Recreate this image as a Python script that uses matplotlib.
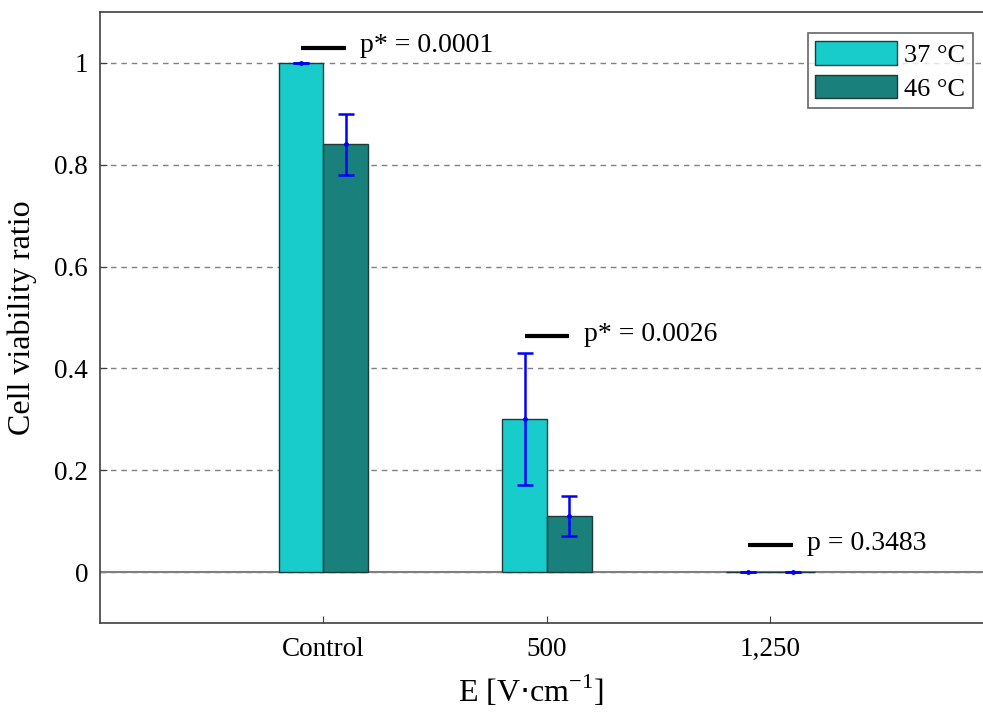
import matplotlib.pyplot as plt
import numpy as np

plt.rcParams['font.family'] = ['Liberation Serif', 'DejaVu Serif']

# data
groups = ["Control", "500", "1,250"]
viab_37 = [1.0, 0.30, 0.0]
err_37 = [0.0, 0.13, 0.0]
viab_46 = [0.84, 0.11, 0.0]
err_46 = [0.06, 0.04, 0.0]
p_labels = ["p* = 0.0001", "p* = 0.0026", "p = 0.3483"]
p_heights = [1.03, 0.463, 0.053]

fig = plt.figure(figsize=(9.83, 7.15), dpi=100)
# axes run past the right edge of the picture, as in the source figure
ax = fig.add_axes([0.1017, 0.1287, 0.9095, 0.8546])

x = np.arange(1, len(groups) + 1)
w = 0.2

ax.axhline(0, color='#808080', lw=1.5, zorder=1)
ax.bar(x - w/2, viab_37, w, color='#19CCCC', edgecolor='#1f3a3a', lw=1, label='37 °C', zorder=2)
ax.bar(x + w/2, viab_46, w, color='#1A807C', edgecolor='#1f3a3a', lw=1, label='46 °C', zorder=2)
ax.errorbar(x - w/2, viab_37, yerr=err_37, fmt='.', color='#0000FF', ms=5,
            elinewidth=1.8, capsize=5.5, capthick=1.8, zorder=3)
ax.errorbar(x + w/2, viab_46, yerr=err_46, fmt='.', color='#0000FF', ms=5,
            elinewidth=1.8, capsize=5.5, capthick=1.8, zorder=3)

for xi, ph, lab in zip(x, p_heights, p_labels):
    ax.plot([xi - 0.1, xi + 0.1], [ph, ph], color='black', lw=3, solid_capstyle='butt', zorder=3)
    ax.text(xi + 0.165, ph + 0.004, lab, fontsize=20, va='center', ha='left')

ax.set_xlim(0, 4)
ax.set_ylim(-0.1, 1.1)
ax.set_xticks(x)
ax.set_xticklabels(groups)
ax.set_yticks([0, 0.2, 0.4, 0.6, 0.8, 1])
ax.set_yticklabels(["0", "0.2", "0.4", "0.6", "0.8", "1"])
ax.tick_params(direction='in', labelsize=19.5, length=5, color='#404040')
ax.tick_params(axis='y', pad=8.5)
ax.tick_params(axis='x', pad=10)
ax.yaxis.grid(True, linestyle=(0, (4, 3.5)), color='#808080', lw=1)
ax.set_axisbelow(True)
for s in ax.spines.values():
    s.set_color('#404040')
    s.set_linewidth(1.2)

ax.set_ylabel("Cell viability ratio", fontsize=23)
ax.yaxis.set_label_coords(-0.07, 0.5)
ax.set_xlabel(r"E [V$\cdot$cm$^{\mathregular{-1}}$]", fontsize=23)
ax.xaxis.set_label_coords(0.482, -0.083)

leg = ax.legend(loc='upper right', fontsize=19, handlelength=3.1, handleheight=1.0,
                frameon=True, fancybox=False, edgecolor='#404040', borderaxespad=0.8,
                handletextpad=0.25, labelspacing=0.3, borderpad=0.3)
leg.get_frame().set_linewidth(1.2)

fig.savefig("out.png", dpi=100)
